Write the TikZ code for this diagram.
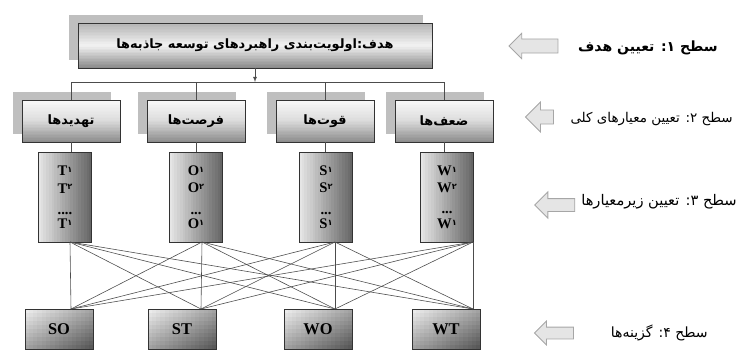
\documentclass[tikz,border=0pt]{standalone}
\usepackage{fontspec}
\setmainfont{Liberation Serif}
\newfontfamily\arabicfont[Script=Arabic]{DejaVu Sans}
\TeXXeTstate=1
\usepackage{tikz}
\usetikzlibrary{arrows,shapes.arrows,calc}

\pgfdeclarelayer{shadowlayer}
\pgfdeclarelayer{shadelayer}
\pgfsetlayers{shadowlayer,shadelayer,main}

\newcommand{\crit}[2]{#1\raisebox{0.45ex}{\arabicfont\fontsize{7}{7}\selectfont #2}}
\newcommand{\fa}[1]{{\arabicfont\beginR #1\endR}}
% gray strips from top to bottom: node, top, middle, bottom darkness
\newcommand{\vstrips}[4]{%
  \foreach \k in {0,...,29}{
    \pgfmathsetmacro\shadedark{\k<15 ? #2+(#3-#2)*\k/14.5 : #3+(#4-#3)*(\k-14.5)/14.5}
    \fill[black!\shadedark] ($(#1.north west)!{\k/30}!(#1.south west)$) rectangle ($(#1.north east)!{min(1,(\k+1.4)/30)}!(#1.south east)$);
  }}
% gray strips from left to right: node, left, right darkness
\newcommand{\hstrips}[3]{%
  \foreach \k in {0,...,19}{
    \pgfmathsetmacro\shadedark{#2+(#3-#2)*\k/19}
    \fill[black!\shadedark] ($(#1.north west)!{\k/20}!(#1.north east)$) rectangle ($(#1.south west)!{min(1,(\k+1.4)/20)}!(#1.south east)$);
  }}
% gray cells, light top left to dark bottom right: node, light, dark
\newcommand{\dstrips}[3]{%
  \foreach \cx in {0,...,15}{
  \foreach \cy in {0,...,9}{
    \pgfmathsetmacro\shadedark{#2+(#3-#2)*(\cx/15+\cy/9)/2}
    \fill[black!\shadedark] ($($(#1.north west)!{\cx/16}!(#1.north east)$)!{\cy/10}!($(#1.south west)!{\cx/16}!(#1.south east)$)$)
      rectangle ($($(#1.north west)!{min(1,(\cx+1.4)/16)}!(#1.north east)$)!{min(1,(\cy+1.4)/10)}!($(#1.south west)!{min(1,(\cx+1.4)/16)}!(#1.south east)$)$);
  }}}
\newcommand{\backbox}[1]{\fill[gray!50] ([shift={(-9,-8)}]#1.north west) rectangle ([shift={(-9,-8)}]#1.south east);}

\tikzset{
  box/.style={draw=gray!40!black, line width=0.7pt, inner sep=0pt, align=center},
  goalbox/.style={box, minimum width=10.62cm, minimum height=1.35cm,
    font=\bfseries\fontsize{11}{11}\selectfont},
  critbox/.style={box, minimum width=2.94cm, minimum height=1.26cm,
    font=\bfseries\fontsize{11}{11}\selectfont},
  subbox/.style={box, minimum width=1.59cm, minimum height=2.7cm,
    font=\bfseries\fontsize{12.5}{15}\selectfont},
  altbox/.style={box, minimum width=2.04cm, minimum height=1.2cm,
    font=\bfseries\fontsize{14}{14}\selectfont},
  link/.style={draw=gray!60!black, line width=0.5pt},
  levelarrow/.style={single arrow, shape border rotate=180, draw=gray!70,
    fill=gray!20, line width=0.7pt, inner sep=0pt},
  leveltext/.style={inner sep=0pt, anchor=east, font=\fontsize{11.5}{11.5}\selectfont}
}

\begin{document}
\begin{tikzpicture}[x=0.03cm, y=-0.03cm]
\useasboundingbox (0,0) rectangle (742,350);
%%%%% Goal %%%%%
\node[goalbox] (goal) at (255,45.5) {\fa{هدف:اولویت‌بندی راهبردهای توسعه جاذبه‌ها}};
\coordinate (bus) at (255,82);

%%%%% Criteria %%%%%
\node[critbox] (c1) at (71,121)  {\fa{تهدیدها}};
\node[critbox] (c2) at (196,121) {\fa{فرصت‌ها}};
\node[critbox] (c3) at (325,121) {\fa{قوت‌ها}};
\node[critbox] (c4) at (444,121) {\fa{ضعف‌ها}};

\draw[link,-latex] (goal.south) -- (goal.south |- bus);
\draw[link] (c1.north) |- (bus -| c4.north) -- (c4.north);
\draw[link] (c2.north) -- (c2.north |- bus);
\draw[link] (c3.north) -- (c3.north |- bus);

%%%%% Sub criteria %%%%%
\node[subbox] (s1) at (65,197)  {\crit{T}{۱}\\\crit{T}{۲}\\[3pt]....\\[-3pt]\crit{T}{۱}};
\node[subbox] (s2) at (196,197) {\crit{O}{۱}\\\crit{O}{۲}\\[3pt]...\\[-3pt]\crit{O}{۱}};
\node[subbox] (s3) at (326,197) {\crit{S}{۱}\\\crit{S}{۲}\\[3pt]...\\[-3pt]\crit{S}{۱}};
\node[subbox] (s4) at (447,197) {\crit{W}{۱}\\\crit{W}{۲}\\[3pt]...\\[-3pt]\crit{W}{۱}};

\foreach \i in {1,...,4}{
\draw[link] (c\i.south) -- (c\i.south |- s\i.north);
}

%%%%% Alternatives %%%%%
\node[altbox] (a1) at (59,329)  {SO};
\node[altbox] (a2) at (182,329) {ST};
\node[altbox] (a3) at (318,329) {WO};
\node[altbox] (a4) at (446,329) {WT};

\coordinate (p1) at (70,242);  \coordinate (q1) at (71,309);
\coordinate (p2) at (202,242); \coordinate (q2) at (201,309);
\coordinate (p3) at (335,242); \coordinate (q3) at (335,309);
\coordinate (p4) at (473,242); \coordinate (q4) at (473,309);
\foreach \i in {1,...,4}{
\foreach \j in {1,...,4}{
\draw[link] (p\i) -- (q\j);
}}

%%%%% Shading %%%%%
\begin{pgfonlayer}{shadowlayer}
\backbox{goal}
\foreach \i in {1,...,4}{\backbox{c\i}}
\end{pgfonlayer}
\begin{pgfonlayer}{shadelayer}
\vstrips{goal}{30}{5}{45}
\foreach \n in {1,...,4}{
\vstrips{c\n}{2}{14}{45}
\hstrips{s\n}{10}{60}
\dstrips{a\n}{8}{65}
}
\end{pgfonlayer}

%%%%% Levels %%%%%
\node[levelarrow, minimum height=1.47cm, single arrow head extend=0.17cm] (l1) at (537,46) {\rule{0pt}{0.4cm}};
\node[levelarrow, minimum height=0.84cm, single arrow head extend=0.24cm] (l2) at (543,117) {\rule{0pt}{0.4cm}};
\node[levelarrow, minimum height=1.2cm,  single arrow head extend=0.2cm]  (l3) at (558,205) {\rule{0pt}{0.36cm}};
\node[levelarrow, minimum height=1.17cm, single arrow head extend=0.18cm] (l4) at (557,333) {\rule{0pt}{0.33cm}};

\node[leveltext, font=\bfseries\fontsize{12}{12}\selectfont] (t1) at (718,48) {\fa{سطح ۱: تعیین هدف}};
\node[leveltext] (t2) at (733,119) {\fa{سطح ۲: تعیین معیارهای کلی}};
\node[leveltext, font=\fontsize{12.5}{12.5}\selectfont] (t3) at (737,202) {\fa{سطح ۳: تعیین زیرمعیارها}};
\node[leveltext, font=\fontsize{12}{12}\selectfont] (t4) at (708,333) {\fa{سطح ۴: گزینه‌ها}};
\end{tikzpicture}
\end{document}
